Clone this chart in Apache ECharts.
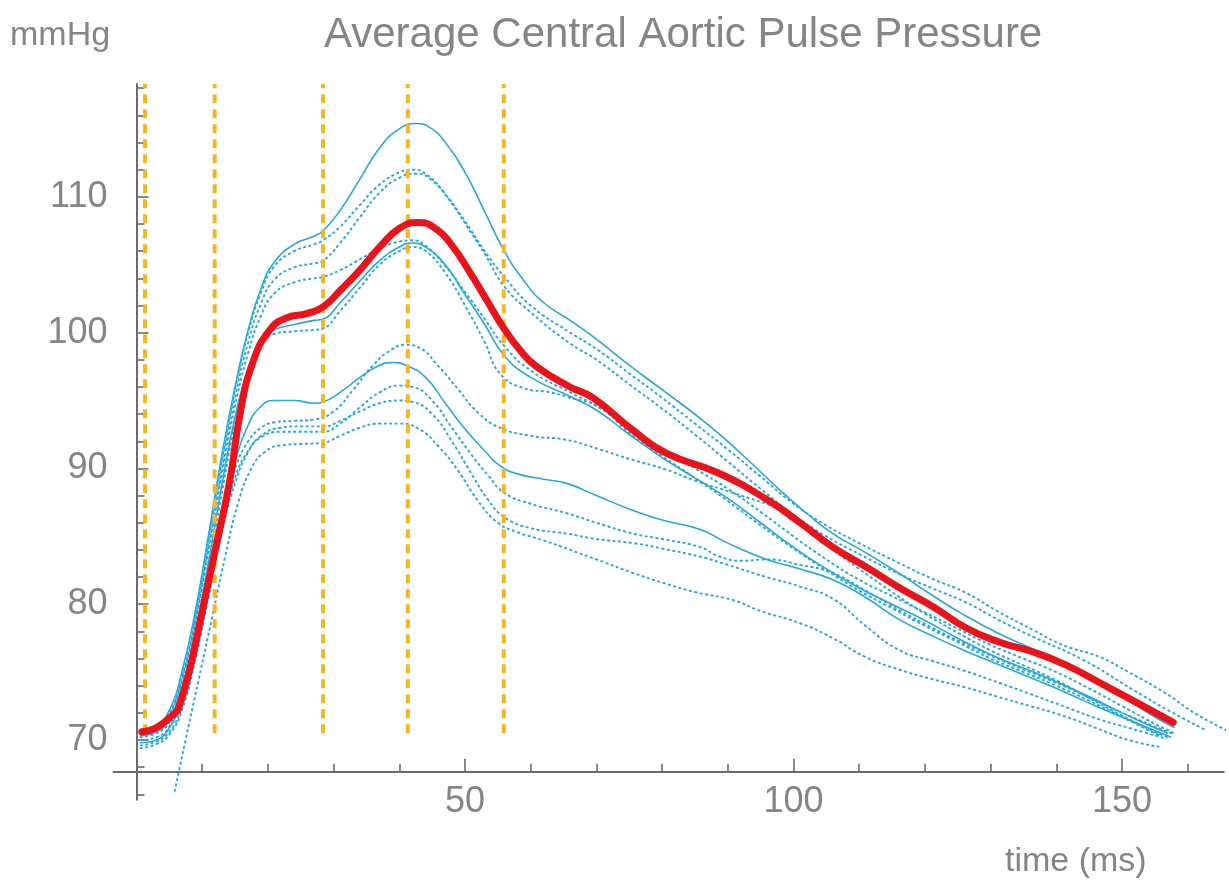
<!DOCTYPE html>
<html>
<head>
<meta charset="utf-8">
<title>Average Central Aortic Pulse Pressure</title>
<script src="https://cdn.jsdelivr.net/npm/echarts@6/dist/echarts.min.js"></script>
<style>
  html, body { margin: 0; padding: 0; background: #fff; }
  #chart { width: 1229px; height: 891px; }
</style>
</head>
<body>
<div id="chart"></div>
<script>
// tick values
var xMajorTicks = [50, 100, 150];
var xMinorTicks = [10, 20, 30, 40, 60, 70, 80, 90, 110, 120, 130, 140, 160];
var yMajorTicks = [70, 80, 90, 100, 110];
var yMinorTicks = [66, 68, 72, 74, 76, 78, 82, 84, 86, 88, 92, 94, 96, 98, 102, 104, 106, 108, 112, 114, 116, 118];

// vertical markers (ms) and their extent (mmHg)
var markerTimes = [1.3, 11.9, 28.4, 41.3, 55.9];
var markerRange = [70.5, 118.3];

// mean curve [ms, mmHg]
var meanCurve = [[0.8,70.6],[3,70.9],[5.9,72.0],[6.3,72.2],[8.1,75.2],[9.7,78.8],[12,84.0],[14.2,89.1],[15.8,94.1],[17.7,97.8],[20.3,100.2],[22.9,101.1],[25.9,101.4],[28.4,101.9],[31,103.1],[34,104.6],[37,106.3],[40.1,107.7],[42.8,108.1],[45.7,107.6],[48.2,106.3],[50.8,104.4],[53.3,102.4],[55.8,100.4],[58.4,98.7],[60.9,97.5],[66,96.0],[69.5,95.2],[75.6,92.8],[80.7,91.1],[88.4,89.7],[96,87.7],[101,86.0],[106,84.2],[111.2,82.7],[116.2,81.2],[121.3,79.8],[126.3,78.25],[131.4,77.2],[136.4,76.5],[141.6,75.5],[146.7,74.2],[151.7,72.9],[157.8,71.3]];

// individual recordings
var u1 = [[0.5,70.8],[3,71.1],[5,72.2],[7,75.2],[9,79.6],[11,85.2],[13,91.0],[15,96.0],[17,100.2],[19,103.3],[21,105.2],[24,106.5],[27,107.1],[28.4,107.5],[31,109.0],[34,111.3],[37,113.6],[40,115.0],[42.5,115.4],[45,115.0],[47,114.0],[50,111.8],[53,108.9],[56,106.0],[59,103.8],[62,102.2],[66,100.9],[69.5,99.7],[75,97.6],[80,95.8],[86.8,93.3],[92,91.1],[98.4,88.2],[102,86.7],[106,85.2],[111,83.8],[116,82.3],[121,80.7],[126,79.2],[131,77.9],[136,76.8],[141,75.7],[146,74.4],[151,72.9],[155,71.7],[158,70.9]];
var u2 = [[0.5,70.6],[3,70.9],[5,71.9],[7,74.8],[9,79.2],[11,84.8],[13,90.6],[15,95.8],[17,100.0],[19,103.0],[21,104.9],[24,106.0],[27,106.5],[28.4,106.8],[31,107.8],[34,109.4],[37,110.9],[40,111.8],[42,112.0],[44,111.7],[47,110.2],[50,108.2],[53,106.0],[56,104.1],[60,102.0],[66,100.0],[70,98.8],[75,97.0],[80,95.2],[85,93.3],[90,91.4],[95,89.4],[100,87.4],[105,85.8],[110,84.5],[116.2,83.0],[121,81.9],[126.4,80.8],[131,79.5],[136.5,78.1],[141,77.0],[146.7,76.1],[151,75.0],[156.8,73.4],[161,72.0],[166.4,70.6]];
var u3 = [[0.5,70.4],[3,70.7],[5,71.7],[7,74.5],[9,78.8],[11,84.3],[13,90.0],[15,95.2],[17,99.3],[19,102.2],[21,103.9],[24,104.8],[27,105.1],[28.4,105.3],[31,106.6],[34,108.5],[37,110.3],[40,111.4],[42.5,111.7],[45,111.2],[48,109.5],[51,107.3],[53,105.8],[56,103.4],[60,101.5],[66,99.2],[70,98.0],[75,96.2],[80,94.4],[85,92.5],[90,90.5],[95,88.5],[100,86.6],[105,85.0],[110,83.7],[116.2,82.2],[121,81.2],[126.4,80.1],[131,78.9],[136.5,77.6],[144.1,75.9],[151.7,73.7],[157,72.2],[162.9,70.7]];
var u4 = [[0.5,70.5],[3,70.8],[5,71.8],[7,74.6],[9,78.8],[11,84.0],[13,89.6],[15,94.6],[17,98.5],[19,101.3],[21,102.9],[24,103.7],[27,104.0],[28.4,104.1],[31,104.6],[34,105.4],[37,106.2],[40,106.7],[42,106.8],[44,106.4],[47,104.9],[50,103.0],[53,101.0],[56,99.0],[60,97.2],[66,95.6],[70,94.6],[75,93.0],[80,91.5],[85,90.0],[90,88.5],[95,86.8],[100,85.0],[105,83.3],[110,81.8],[115,80.6],[120,79.4],[125,78.2],[130,77.0],[135,76.0],[140,75.0],[145,73.8],[150,72.5],[155,71.2],[158,70.5]];
var u5 = [[0.5,70.3],[3,70.6],[5,71.5],[7,74.0],[9,78.0],[11,83.2],[13,88.8],[15,93.8],[17,97.3],[19,99.3],[21,100.2],[24,100.6],[27,100.9],[28.4,101.0],[31,102.2],[34,103.8],[37,105.3],[40,106.3],[42,106.6],[44,106.3],[47,105.0],[50,102.8],[53,100.6],[56,98.3],[60,96.7],[66,95.3],[70,94.3],[75,92.5],[80,90.8],[85,89.3],[90,87.8],[95,86.0],[100,84.2],[105,82.6],[110,81.2],[115,80.0],[120,78.8],[125,77.5],[130,76.3],[135,75.3],[140,74.3],[145,73.2],[150,72.0],[155,70.9],[157,70.5]];
var u6 = [[0.5,70.2],[3,70.5],[5,71.3],[7,73.8],[9,77.6],[11,82.7],[13,88.2],[15,93.3],[17,96.9],[19,99.0],[21,99.9],[24,100.1],[27,100.2],[28.4,100.3],[31,101.6],[34,103.3],[37,105.0],[40,106.0],[42,106.3],[44,106.0],[47,104.4],[50,102.0],[53,99.3],[55.3,97.0],[59,95.9],[63,95.6],[66,95.2],[70.5,94.5],[75,92.6],[80,90.9],[85,89.3],[90,87.6],[95,85.8],[100,84.1],[105,82.5],[110,81.0],[115,79.7],[120,78.4],[125,77.2],[130,76.0],[135,75.0],[140,74.0],[145,72.9],[150,71.7],[155,70.5],[156,70.3]];
var l1 = [[0.5,70.0],[3,70.2],[5,71.0],[7,73.3],[9,77.5],[11,82.5],[13,87.0],[15,90.0],[17,92.0],[19,93.0],[21,93.4],[24,93.5],[27,93.6],[30,94.2],[33,95.8],[36,97.6],[39,98.8],[41,99.1],[43,98.9],[46,97.5],[49,95.8],[52,94.1],[55.3,93.0],[60,92.4],[65.5,92.1],[70.5,91.4],[75,90.7],[80.7,89.9],[85,89.1],[90.8,88.2],[98.4,86.9],[101,86.1],[105,84.4],[110,82.6],[115,80.9],[120,79.3],[125,77.9],[130,76.6],[135,75.5],[140,74.4],[145,73.1],[150,71.8],[155,70.6],[157,70.2]];
var l2 = [[0.5,69.8],[3,70.0],[5,70.9],[7,73.0],[9,77.0],[11,82.0],[13,86.8],[15,90.5],[17,93.2],[19,94.6],[21,95.0],[24,95.0],[27,94.8],[28.4,94.9],[31,95.6],[34,96.7],[37,97.6],[39,97.8],[41,97.6],[44,96.7],[47,94.8],[50,92.9],[53,91.3],[55.3,90.2],[58,89.6],[62,89.2],[65.5,88.9],[70,88.0],[75.6,86.9],[80,86.2],[85.8,85.5],[90,84.5],[95.9,83.3],[101,82.6],[106,81.8],[111,80.5],[116,78.9],[121,77.7],[126,76.6],[131,75.6],[136,74.6],[141,73.6],[146,72.5],[151,71.5],[156,70.5],[157.5,70.2]];
var l3 = [[0.5,69.6],[3,69.9],[5,70.6],[7,72.6],[9,76.3],[11,81.0],[13,85.8],[15,89.3],[17,91.3],[19,92.3],[22,92.7],[25,92.7],[28.4,92.7],[31,93.3],[34,94.5],[37,95.6],[40,96.1],[42,96.0],[45,95.0],[48,93.0],[51,91.0],[53.5,89.5],[56,88.2],[60,87.4],[65.5,86.7],[70,86.0],[75.6,85.2],[80,84.8],[85.8,84.2],[88.8,83.5],[92,83.2],[95.9,83.3],[101,82.9],[106,82.3],[111,81.0],[116,79.6],[121,78.3],[126,77.1],[131,76.0],[136,75.0],[141,74.0],[146,72.9],[151,71.8],[156,70.8],[158,70.4]];
var l4 = [[0.5,69.4],[3,69.7],[5,70.4],[7,72.3],[9,76.0],[11,80.6],[13,85.3],[15,88.9],[17,91.2],[19,92.4],[22,93.0],[25,93.1],[28.4,93.1],[31,93.5],[34,94.2],[37,94.8],[40,95.0],[42,94.9],[45,94.0],[48,92.0],[51,89.6],[53.5,87.7],[56,86.4],[60,85.6],[65.5,85.2],[70,84.8],[75.6,84.5],[80,84.1],[85.8,83.5],[90,82.9],[95.9,82.0],[101,81.3],[106,80.4],[111,78.4],[116.2,76.6],[121.3,75.8],[126,75.1],[131.4,74.2],[136,73.4],[141.6,72.4],[146.7,71.5],[151,70.9],[156.8,70.1]];
var l5 = [[5.8,66.2],[7.6,70.3],[9.4,74.3],[11.5,79.0],[13.5,83.5],[15.5,87.5],[17.5,90.0],[19.5,91.2],[22,91.7],[25,91.8],[28.4,91.9],[31,92.4],[34,93.0],[37,93.3],[40,93.3],[43,92.9],[46,91.6],[49,89.8],[52,87.6],[55,86.0],[58,85.3],[62,84.7],[66,84.0],[70,83.3],[75.6,82.3],[80,81.6],[85,80.9],[90.8,80.3],[95,79.5],[101,78.6],[106,77.5],[111,76.1],[116,75.2],[121,74.5],[126,73.9],[131,73.2],[136,72.5],[141,71.8],[146,70.9],[151,70.0],[155.7,69.5]];

var recordings = [u1, u2, u3, u4, u5, u6, l1, l2, l3, l4, l5];
var solidRecordings = [u1, u5, l2];

var textGray = '#858585';
var axisGray = '#6b6b6b';
var blue = '#27a7dc';
var fontName = 'Liberation Sans';

var myChart = echarts.init(document.getElementById('chart'));

var series = [];

// 记录曲线
recordings.forEach(function (curve, i) {
    var solid = solidRecordings.indexOf(curve) >= 0;
    series.push({
        name: 'rec' + i,
        type: 'line',
        data: curve,
        smooth: 0.5,
        symbol: 'none',
        z: 2,
        lineStyle: {
            color: blue,
            width: solid ? 1.6 : 1.9,
            type: solid ? 'solid' : [3, 2.5]
        }
    });
});

// 竖线
markerTimes.forEach(function (t, i) {
    series.push({
        name: 'marker' + i,
        type: 'line',
        data: [[t, markerRange[0]], [t, markerRange[1]]],
        symbol: 'none',
        z: 3,
        lineStyle: {
            color: '#f5b624',
            width: 4,
            type: [9, 6]
        }
    });
});

// 平均曲线
series.push({
    name: 'mean',
    type: 'line',
    data: meanCurve,
    smooth: 0.5,
    symbol: 'none',
    z: 4,
    lineStyle: {
        color: '#e8131b',
        width: 7,
        cap: 'round'
    }
});

var option = {
    animation: false,
    backgroundColor: '#fff',
    title: [
        {
            text: 'Average Central Aortic Pulse Pressure',
            left: 319,
            top: 9,
            textStyle: { fontFamily: fontName, fontSize: 42, fontWeight: 'normal', color: textGray }
        },
        {
            text: 'mmHg',
            left: 5,
            top: 14,
            textStyle: { fontFamily: fontName, fontSize: 34, fontWeight: 'normal', color: textGray }
        },
        {
            text: 'time (ms)',
            left: 1000,
            top: 840,
            textStyle: { fontFamily: fontName, fontSize: 34, fontWeight: 'normal', color: textGray }
        }
    ],
    grid: {
        left: 113.5,
        top: 84.1,
        width: 1110.3,
        height: 715.7,
        containLabel: false
    },
    xAxis: [
        {
            type: 'value',
            position: 'bottom',
            min: -3.5,
            max: 165.5,
            offset: -28.1,
            axisLine: { onZero: false, lineStyle: { color: axisGray, width: 2 } },
            axisTick: { customValues: xMajorTicks, inside: true, length: 13, lineStyle: { color: axisGray, width: 1.6 } },
            axisLabel: { customValues: xMajorTicks, margin: 12, fontFamily: fontName, fontSize: 36, color: textGray },
            splitLine: { show: false }
        },
        {
            type: 'value',
            position: 'bottom',
            min: -3.5,
            max: 165.5,
            offset: -28.1,
            axisLine: { show: false, onZero: false },
            axisTick: { customValues: xMinorTicks, inside: true, length: 8, lineStyle: { color: axisGray, width: 1.6 } },
            axisLabel: { show: false },
            splitLine: { show: false }
        }
    ],
    yAxis: [
        {
            type: 'value',
            position: 'left',
            min: 65.6,
            max: 118.3,
            offset: -23,
            axisLine: { onZero: false, lineStyle: { color: axisGray, width: 2 } },
            axisTick: { customValues: yMajorTicks, inside: true, length: 12, lineStyle: { color: axisGray, width: 1.6 } },
            axisLabel: { customValues: yMajorTicks, margin: 29, fontFamily: fontName, fontSize: 36, color: textGray },
            splitLine: { show: false }
        },
        {
            type: 'value',
            position: 'left',
            min: 65.6,
            max: 118.3,
            offset: -23,
            axisLine: { show: false, onZero: false },
            axisTick: { customValues: yMinorTicks, inside: true, length: 8, lineStyle: { color: axisGray, width: 1.6 } },
            axisLabel: { show: false },
            splitLine: { show: false }
        }
    ],
    series: series
};

myChart.setOption(option);
</script>
</body>
</html>
